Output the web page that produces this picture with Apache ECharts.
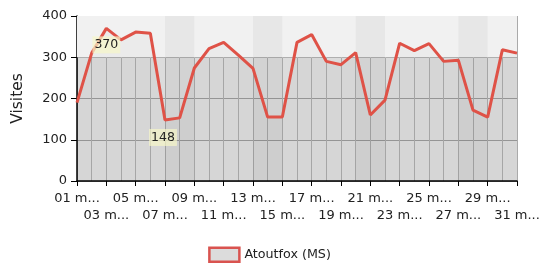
<!DOCTYPE html>
<html><head><meta charset="utf-8">
<script src="https://cdn.jsdelivr.net/npm/echarts@6/dist/echarts.min.js"></script>
<style>html,body{margin:0;padding:0;background:#fff}#c{width:539px;height:271px}</style>
</head><body><div id="c"></div>
<script>
const categories = ['01 mars','02 mars','03 mars','04 mars','05 mars','06 mars','07 mars','08 mars','09 mars','10 mars','11 mars','12 mars','13 mars','14 mars','15 mars','16 mars','17 mars','18 mars','19 mars','20 mars','21 mars','22 mars','23 mars','24 mars','25 mars','26 mars','27 mars','28 mars','29 mars','30 mars','31 mars'];
const visites = [190,310,370,342,361,358,148,153,274,321,336,305,273,155,155,336,355,290,282,311,160,196,334,316,333,290,293,172,155,318,310];
const yTicks = [0,100,200,300,400];
const seriesName = 'Atoutfox (MS)';
const weekendBands = [['07 mars','09 mars'],['13 mars','15 mars'],['20 mars','22 mars'],['27 mars','29 mars']];

const chart = echarts.init(document.getElementById('c'));
const font = 'DejaVu Sans, sans-serif';
const lbl = {color:'#222',fontSize:12.5,fontFamily:font,backgroundColor:'rgba(246,246,200,0.7)',padding:[2,2]};
const shortLabel = v => v.slice(0,4)+'...';
const xLabelBase = {color:'#222',fontSize:13,fontFamily:font,showMinLabel:true,showMaxLabel:true,hideOverlap:false,formatter:shortLabel};
chart.setOption({
  animation:false,
  textStyle:{fontFamily:font},
  grid:{left:77,right:22,top:16,bottom:90,show:true,backgroundColor:'#dcdcdc',borderWidth:0,containLabel:false,outerBoundsMode:'none'},
  legend:{bottom:3,left:'center',itemWidth:30,itemHeight:14,icon:'rect',itemGap:6,
    textStyle:{fontFamily:font,fontSize:12.7,color:'#222'},
    itemStyle:{color:'#dcdcdc',borderColor:'#d9534f',borderWidth:2.5},
    data:[{name:seriesName}]},
  xAxis:[{type:'category',data:categories,boundaryGap:false,
    axisLine:{lineStyle:{color:'#000',width:1.5}},
    axisTick:{interval:1,length:5,lineStyle:{color:'#000'}},
    axisLabel:Object.assign({interval:(i)=>i%4===0,margin:11},xLabelBase),
    splitLine:{show:true,interval:0,lineStyle:{color:'#aaa',width:1}}},
   {type:'category',data:categories,boundaryGap:false,position:'bottom',
    axisLine:{show:false},axisTick:{show:false},splitLine:{show:false},
    axisLabel:Object.assign({interval:(i)=>i%4===2,margin:28},xLabelBase)}],
  yAxis:{type:'value',min:yTicks[0],max:yTicks[yTicks.length-1],interval:100,
    name:'Visites',nameLocation:'middle',nameGap:51,nameRotate:90,
    nameTextStyle:{fontSize:15.5,color:'#222',fontFamily:font},
    axisLine:{show:true,lineStyle:{color:'#000',width:1.5}},
    axisTick:{show:true,length:6,lineStyle:{color:'#000'}},
    axisLabel:{color:'#222',fontSize:13,fontFamily:font,margin:10},
    splitLine:{show:true,lineStyle:{color:'#999',width:1}}},
  series:[{name:seriesName,type:'line',data:visites,
    showSymbol:false,symbol:'none',
    lineStyle:{color:'#df5247',width:3},
    itemStyle:{color:'#df5247'},
    areaStyle:{color:'rgba(0,0,0,0.035)'},
    markPoint:{silent:true,symbol:'rect',symbolSize:0,data:[
      {type:'max',label:Object.assign({show:true,position:'bottom',distance:8,offset:[0,0]},lbl)},
      {type:'min',label:Object.assign({show:true,position:'bottom',distance:9,offset:[-2,0]},lbl)}
    ]},
    markArea:{silent:true,itemStyle:{color:'#f1f1f1'},data:[
      [{yAxis:300,itemStyle:{color:'#f1f1f1'}},{yAxis:400}]
    ].concat(weekendBands.map(b=>[{xAxis:b[0],itemStyle:{color:'rgba(0,0,0,0.04)'}},{xAxis:b[1]}]))}
  }]
});
</script></body></html>
